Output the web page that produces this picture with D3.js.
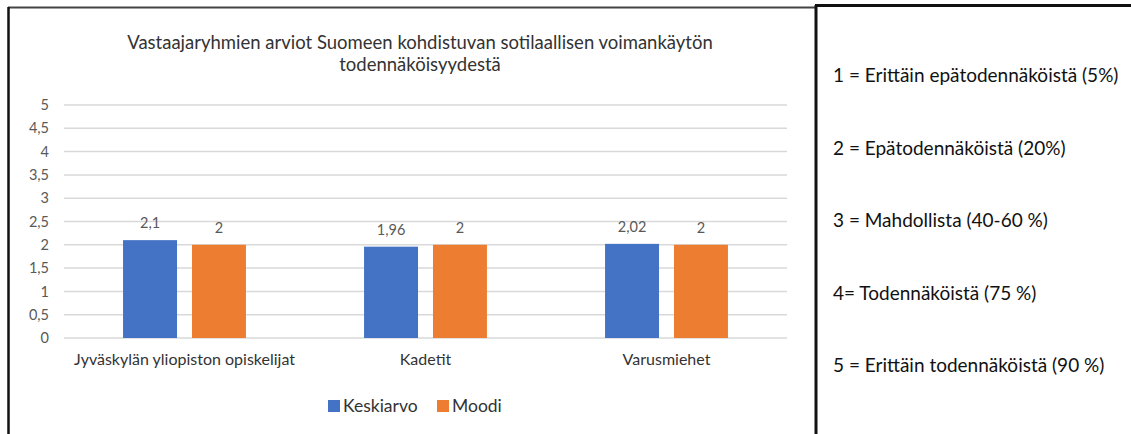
<!DOCTYPE html>
<html>
<head>
<meta charset="utf-8">
<script src="https://cdn.jsdelivr.net/npm/d3@7"></script>
<style>
  body { margin: 0; background: #fff; }
  svg { display: block; font-family: "Lato", "Liberation Sans", sans-serif; }
</style>
</head>
<body>
<div id="chart"></div>
<script>
const categories = ["Jyväskylän yliopiston opiskelijat", "Kadetit", "Varusmiehet"];
const seriesNames = ["Keskiarvo", "Moodi"];
const keskiarvo = [2.1, 1.96, 2.02];
const moodi = [2, 2, 2];
const yTicks = [0, 0.5, 1, 1.5, 2, 2.5, 3, 3.5, 4, 4.5, 5];
const titleLines = ["Vastaajaryhmien arviot Suomeen kohdistuvan sotilaallisen voimankäytön", "todennäköisyydestä"];
const scaleNotes = [
    "1 = Erittäin epätodennäköistä (5%)",
    "2 = Epätodennäköistä (20%)",
    "3 = Mahdollista (40-60 %)",
    "4= Todennäköistä (75 %)",
    "5 = Erittäin todennäköistä (90 %)"
];

const colors = { "Keskiarvo": "#4472C4", "Moodi": "#ED7D31" };
const fmt = v => String(v).replace(".", ",");

const width = 1131, height = 434;
const plot = { left: 64, right: 787, top: 105, bottom: 338 };

const svg = d3.select("#chart").append("svg")
    .attr("width", width)
    .attr("height", height);

// frames
svg.append("line").attr("x1", 8).attr("x2", 816).attr("y1", 7.5).attr("y2", 7.5)
    .attr("stroke", "#444").attr("stroke-width", 2);
svg.append("line").attr("x1", 8.5).attr("x2", 8.5).attr("y1", 7).attr("y2", height)
    .attr("stroke", "#111").attr("stroke-width", 2.5);
svg.append("line").attr("x1", 816).attr("x2", 816).attr("y1", 5).attr("y2", height)
    .attr("stroke", "#111").attr("stroke-width", 3);
svg.append("line").attr("x1", 815).attr("x2", width).attr("y1", 5.5).attr("y2", 5.5)
    .attr("stroke", "#111").attr("stroke-width", 3);

// title
svg.append("g").selectAll("text")
    .data(titleLines)
    .enter().append("text")
    .attr("x", 420)
    .attr("y", (d, i) => 49 + i * 22)
    .attr("text-anchor", "middle")
    .style("font-size", "18.5px")
    .style("fill", "#333")
    .text(d => d);

const y = d3.scaleLinear().domain([0, 5]).range([plot.bottom, plot.top]);

const x0 = d3.scaleBand()
    .domain(categories)
    .range([plot.left, plot.right])
    .padding(0);

const x1 = d3.scaleBand()
    .domain(seriesNames)
    .range([x0.bandwidth() * 0.245, x0.bandwidth() * 0.755])
    .paddingInner(0.217);

// gridlines
svg.append("g").selectAll("line")
    .data(yTicks)
    .enter().append("line")
    .attr("x1", plot.left).attr("x2", plot.right)
    .attr("y1", d => y(d)).attr("y2", d => y(d))
    .attr("stroke", "#d9d9d9")
    .attr("stroke-width", 1.5);

// y axis labels
const yAxis = svg.append("g")
    .attr("transform", `translate(${plot.left - 15},0)`)
    .call(d3.axisLeft(y).tickValues(yTicks).tickFormat(fmt).tickSize(0));
yAxis.select(".domain").remove();
yAxis.selectAll("text")
    .attr("x", 0)
    .style("font-family", "Lato, 'Liberation Sans', sans-serif")
    .style("font-size", "14.5px")
    .style("fill", "#595959");

// x axis labels
const xAxis = svg.append("g")
    .attr("transform", `translate(0,${plot.bottom})`)
    .call(d3.axisBottom(x0).tickSize(0).tickPadding(16));
xAxis.select(".domain").remove();
xAxis.selectAll("text")
    .style("font-family", "Lato, 'Liberation Sans', sans-serif")
    .style("font-size", "16px")
    .style("fill", "#333");

const rows = categories.map((c, i) => ({
    cat: c,
    values: [
        { key: "Keskiarvo", value: keskiarvo[i] },
        { key: "Moodi", value: moodi[i] }
    ]
}));

const groups = svg.append("g").selectAll("g")
    .data(rows)
    .enter().append("g")
    .attr("transform", d => `translate(${x0(d.cat)},0)`);

groups.selectAll("rect")
    .data(d => d.values)
    .enter().append("rect")
    .attr("x", d => x1(d.key))
    .attr("y", d => y(d.value))
    .attr("width", x1.bandwidth())
    .attr("height", d => plot.bottom - y(d.value))
    .attr("fill", d => colors[d.key]);

groups.selectAll(".label")
    .data(d => d.values)
    .enter().append("text")
    .attr("class", "label")
    .attr("x", d => x1(d.key) + x1.bandwidth() / 2)
    .attr("y", d => y(d.value) - 12)
    .attr("text-anchor", "middle")
    .style("font-size", "14.5px")
    .style("fill", "#595959")
    .text(d => fmt(d.value));

// legend
const legendPos = [328, 437];
const legend = svg.append("g").selectAll("g")
    .data(seriesNames)
    .enter().append("g")
    .attr("transform", (d, i) => `translate(${legendPos[i]},400)`);
legend.append("rect")
    .attr("width", 12).attr("height", 12)
    .attr("fill", d => colors[d]);
legend.append("text")
    .attr("x", 15).attr("y", 12)
    .style("font-size", "17.5px")
    .style("fill", "#333")
    .text(d => d);

// scale explanation panel
svg.append("g").selectAll("text")
    .data(scaleNotes)
    .enter().append("text")
    .attr("x", 833)
    .attr("y", (d, i) => 82 + i * 72.5)
    .style("font-size", "19px")
    .style("fill", "#111")
    .text(d => d);
</script>
</body>
</html>
